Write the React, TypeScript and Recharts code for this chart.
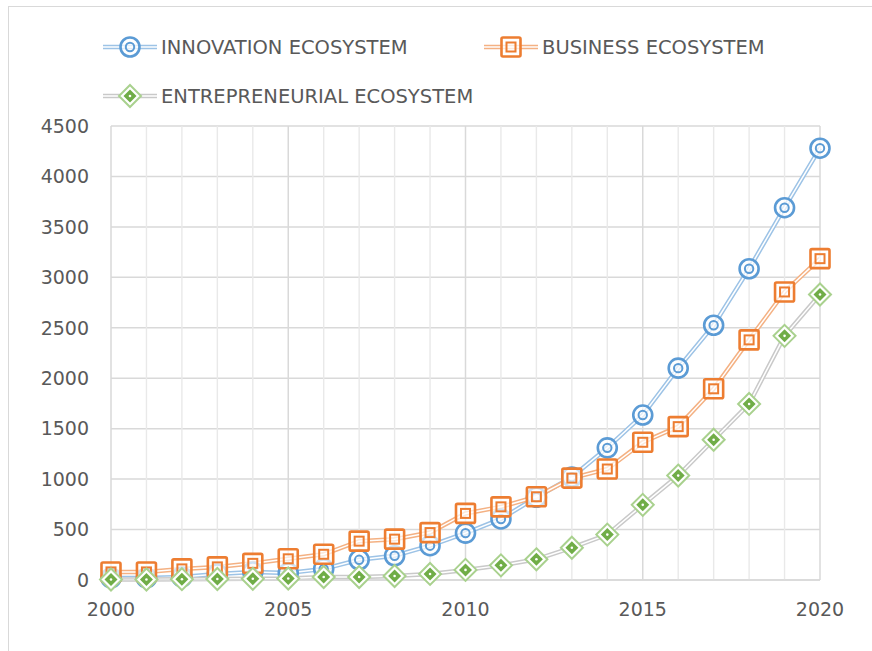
import React from 'react';
import { LineChart, Line, XAxis, YAxis, CartesianGrid, ReferenceLine } from 'recharts';

const years = [2000, 2001, 2002, 2003, 2004, 2005, 2006, 2007, 2008, 2009, 2010, 2011, 2012, 2013, 2014, 2015, 2016, 2017, 2018, 2019, 2020];
const innovation = [20, 20, 30, 60, 80, 70, 110, 200, 240, 340, 465, 605, 820, 1020, 1310, 1635, 2100, 2525, 3085, 3690, 4280];
const business = [80, 80, 110, 130, 165, 210, 255, 385, 405, 470, 660, 725, 825, 1010, 1100, 1365, 1520, 1895, 2380, 2855, 3185];
const entrepreneurial = [5, 5, 8, 10, 12, 15, 30, 30, 40, 60, 100, 145, 205, 320, 450, 745, 1035, 1390, 1745, 2420, 2830];
const xTicks = [2000, 2005, 2010, 2015, 2020];
const yTicks = [0, 500, 1000, 1500, 2000, 2500, 3000, 3500, 4000, 4500];

const data = years.map((year, i) => ({
  year,
  innovation: innovation[i],
  business: business[i],
  entrepreneurial: entrepreneurial[i],
}));

const FONT = '"DejaVu Sans", sans-serif';
const TEXT = '#595959';

const CircleMark = ({ cx, cy }: { cx?: number; cy?: number }) => {
  if (cx == null || cy == null) return null;
  return (
    <g>
      <circle cx={cx} cy={cy} r={9.5} fill="#fff" fillOpacity={0.7} stroke="#5B9BD5" strokeWidth={2.6} />
      <circle cx={cx} cy={cy} r={4.2} fill="none" stroke="#5B9BD5" strokeWidth={2} />
    </g>
  );
};

const SquareMark = ({ cx, cy }: { cx?: number; cy?: number }) => {
  if (cx == null || cy == null) return null;
  return (
    <g>
      <rect x={cx - 9.5} y={cy - 9.5} width={19} height={19} rx={1.5} fill="#fff" fillOpacity={0.7} stroke="#ED7D31" strokeWidth={2.6} />
      <rect x={cx - 4.5} y={cy - 4.5} width={9} height={9} fill="none" stroke="#ED7D31" strokeWidth={2} />
    </g>
  );
};

const DiamondMark = ({ cx, cy }: { cx?: number; cy?: number }) => {
  if (cx == null || cy == null) return null;
  const o = 11;
  const n = 6.5;
  return (
    <g>
      <polygon
        points={`${cx},${cy - o} ${cx + o},${cy} ${cx},${cy + o} ${cx - o},${cy}`}
        fill="#fff"
        stroke="#A9D18E"
        strokeWidth={2}
      />
      <polygon points={`${cx},${cy - n} ${cx + n},${cy} ${cx},${cy + n} ${cx - n},${cy}`} fill="#70AD47" />
      <circle cx={cx} cy={cy} r={1.3} fill="#fff" />
    </g>
  );
};

const legendItems = [
  { name: 'INNOVATION ECOSYSTEM', line: '#9DC3E6', Mark: CircleMark, left: 103, top: 47 },
  { name: 'BUSINESS ECOSYSTEM', line: '#F4B183', Mark: SquareMark, left: 484, top: 47 },
  { name: 'ENTREPRENEURIAL ECOSYSTEM', line: '#C9C9C9', Mark: DiamondMark, left: 103, top: 96 },
];

function LegendBox() {
  return (
    <>
      {legendItems.map(({ name, line, Mark, left, top }) => (
        <div
          key={name}
          style={{ position: 'absolute', left, top: top - 14, height: 28, display: 'flex', alignItems: 'center' }}
        >
          <svg width={56} height={28}>
            <line x1={0} y1={14} x2={54} y2={14} stroke={line} strokeWidth={4.5} />
            <line x1={0} y1={14} x2={54} y2={14} stroke="#fff" strokeWidth={1.5} />
            <Mark cx={27} cy={14} />
          </svg>
          <span style={{ marginLeft: 2, fontFamily: FONT, fontSize: 19.5, color: TEXT, whiteSpace: 'nowrap' }}>{name}</span>
        </div>
      ))}
    </>
  );
}

export default function App() {
  const tick = { fontFamily: FONT, fontSize: 19, fill: TEXT };
  const series = [
    { key: 'innovation', color: '#9DC3E6', Mark: CircleMark },
    { key: 'business', color: '#F4B183', Mark: SquareMark },
    { key: 'entrepreneurial', color: '#C9C9C9', Mark: DiamondMark },
  ];
  return (
    <div style={{ position: 'fixed', left: 0, top: 0, width: 872, height: 651, background: '#fff', overflow: 'hidden' }}>
      <div
        style={{
          position: 'absolute',
          left: 8,
          top: 6,
          width: 900,
          height: 700,
          borderLeft: '1.5px solid #d9d9d9',
          borderTop: '1.5px solid #d9d9d9',
        }}
      />
      <LineChart width={872} height={651} data={data} margin={{ top: 126, right: 52, bottom: 41, left: 0 }}>
        {years
          .filter((y) => y % 5 !== 0)
          .map((y) => (
            <ReferenceLine key={y} x={y} stroke="#e9e9e9" strokeWidth={1.4} />
          ))}
        <CartesianGrid stroke="#d9d9d9" strokeWidth={1.5} verticalValues={xTicks} />
        <XAxis
          dataKey="year"
          type="number"
          domain={[2000, 2020]}
          ticks={xTicks}
          axisLine={{ stroke: '#d9d9d9', strokeWidth: 1.5 }}
          tickLine={false}
          tickSize={0}
          tickMargin={23}
          height={30}
          tick={tick}
          interval={0}
        />
        <YAxis
          type="number"
          domain={[0, 4500]}
          ticks={yTicks}
          axisLine={false}
          tickLine={false}
          tickSize={0}
          tickMargin={22}
          width={111}
          tick={tick}
          interval={0}
        />
        {series.flatMap((s) => [
          <Line
            key={s.key + '-outer'}
            dataKey={s.key}
            stroke={s.color}
            strokeWidth={4.5}
            dot={false}
            activeDot={false}
            isAnimationActive={false}
          />,
          <Line
            key={s.key + '-inner'}
            dataKey={s.key}
            stroke="#fff"
            strokeWidth={1.5}
            dot={<s.Mark />}
            activeDot={false}
            isAnimationActive={false}
          />,
        ])}
      </LineChart>
      <LegendBox />
    </div>
  );
}
